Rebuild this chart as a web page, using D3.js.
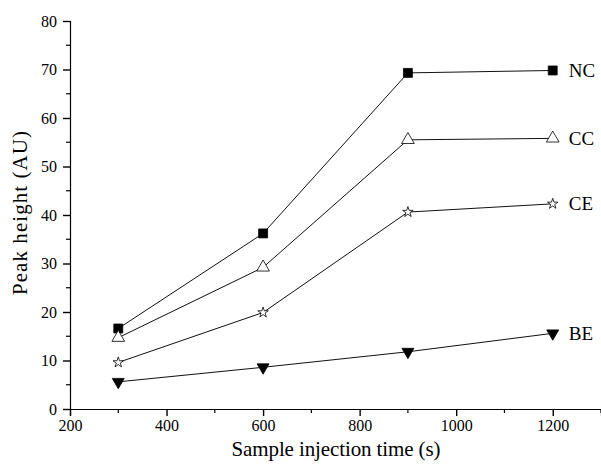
<!DOCTYPE html>
<html>
<head>
<meta charset="utf-8">
<script src="https://d3js.org/d3.v7.min.js"></script>
<style>
  body { margin: 0; background: #fff; }
</style>
</head>
<body>
<script>
// data
var times = [300, 600, 900, 1200];
var seriesNames = ["NC", "CC", "CE", "BE"];
var ncValues = [16.6, 36.2, 69.3, 69.8];
var ccValues = [14.7, 29.2, 55.5, 55.8];
var ceValues = [9.6, 19.9, 40.6, 42.3];
var beValues = [5.6, 8.6, 11.8, 15.6];
var xTicks = [200, 400, 600, 800, 1000, 1200];
var yTicks = [0, 10, 20, 30, 40, 50, 60, 70, 80];

var serif = "'Liberation Serif', 'Times New Roman', Times, 'DejaVu Serif', serif";

var width = 601, height = 469;
var svg = d3.select("body").append("svg")
  .attr("width", width).attr("height", height)
  .attr("font-family", serif);

var x = d3.scaleLinear().domain([200, 1300]).range([70, 601]);
var y = d3.scaleLinear().domain([0, 80]).range([409, 21]);

// axes
var xAxis = d3.axisBottom(x).tickValues(xTicks).tickSize(7).tickPadding(4).tickFormat(d3.format("d"));
var yAxis = d3.axisLeft(y).tickValues(yTicks).tickSize(7).tickPadding(6);

var gx = svg.append("g").attr("transform", "translate(0," + y(0) + ")").call(xAxis);
var gy = svg.append("g").attr("transform", "translate(" + x(200) + ",0)").call(yAxis);

// minor ticks
gx.selectAll(".minor").data(d3.range(300, 1400, 200)).enter().append("line")
  .attr("x1", function(d){ return x(d); }).attr("x2", function(d){ return x(d); })
  .attr("y1", 0).attr("y2", 4).attr("stroke", "#000").attr("stroke-width", 1.2);
gy.selectAll(".minor").data(d3.range(5, 80, 10)).enter().append("line")
  .attr("y1", function(d){ return y(d); }).attr("y2", function(d){ return y(d); })
  .attr("x1", 0).attr("x2", -4).attr("stroke", "#000").attr("stroke-width", 1.2);

[gx, gy].forEach(function(g){
  g.attr("font-family", serif).attr("font-size", 16);
  g.select(".domain").attr("stroke", "#000").attr("stroke-width", 1.2);
  g.selectAll(".tick line").attr("stroke", "#000").attr("stroke-width", 1.4);
  g.selectAll("text").attr("fill", "#000");
});

// axis titles
svg.append("text").attr("x", 336).attr("y", 456)
  .attr("text-anchor", "middle").attr("font-size", 21)
  .attr("textLength", 209).text("Sample injection time (s)");
svg.append("text").attr("transform", "translate(27,213) rotate(-90)")
  .attr("text-anchor", "middle").attr("font-size", 21)
  .attr("textLength", 164).text("Peak height (AU)");

var allValues = [ncValues, ccValues, ceValues, beValues];
var line = d3.line().x(function(d, i){ return x(times[i]); }).y(function(d){ return y(d); });

allValues.forEach(function(vals){
  svg.append("path").datum(vals).attr("d", line)
    .attr("fill", "none").attr("stroke", "#111").attr("stroke-width", 1);
});

var shapes = [
  { type: d3.symbolSquare, size: 80, fill: "#000" },
  { type: d3.symbolTriangle, size: 70, fill: "#fff" },
  { type: d3.symbolStar, size: 34, fill: "#fff" },
  { type: d3.symbolTriangle, size: 62, fill: "#000", flip: true }
];

allValues.forEach(function(vals, k){
  var s = shapes[k];
  svg.selectAll(".m" + k).data(vals).enter().append("path")
    .attr("d", d3.symbol().type(s.type).size(s.size))
    .attr("transform", function(d, i){
      return "translate(" + x(times[i]) + "," + y(d) + ")" + (s.flip ? " rotate(180)" : "");
    })
    .attr("fill", s.fill).attr("stroke", "#000").attr("stroke-width", 0.8);
});

// series labels beside the last point
svg.selectAll(".lab").data(seriesNames).enter().append("text")
  .attr("x", x(1200) + 16)
  .attr("y", function(d, i){ return y(allValues[i][3]) + 6.5; })
  .attr("font-size", 19).text(function(d){ return d; });
</script>
</body>
</html>
